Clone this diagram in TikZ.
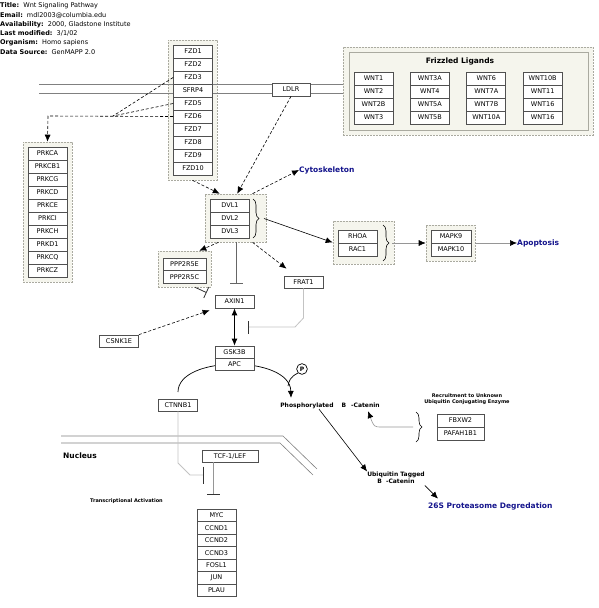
\documentclass[tikz,border=0pt]{standalone}
\usepackage{fontspec}
\setmainfont{DejaVu Sans}
\usetikzlibrary{arrows.meta,positioning,calc,decorations.pathreplacing}
\definecolor{grpfill}{RGB}{245,245,237}
\definecolor{grpline}{RGB}{170,170,160}
\definecolor{boxline}{RGB}{80,80,80}
\definecolor{navy}{RGB}{20,20,140}
\definecolor{wire}{RGB}{150,150,150}
\definecolor{lightwire}{RGB}{195,195,195}

\begin{document}
\begin{tikzpicture}[
  x=1pt,
  y=-1pt,
  font=\fontsize{6.5}{7.5}\selectfont,
  gene/.style={draw=boxline, line width=0.7pt, fill=white, minimum width=39pt, minimum height=13pt, inner sep=0pt},
  grp/.style={draw=grpline, fill=grpfill, line width=0.6pt, dash pattern=on 2pt off 1pt, inner sep=0pt},
  memb/.style={draw=gray, line width=0.6pt},
  act/.style={line width=0.6pt, -{Latex[length=7pt,width=6pt,color=black]}},
  dact/.style={act, dash pattern=on 3pt off 2pt},
  inhib/.style={line width=0.8pt, -{Bar[width=13pt]}},
  curly/.style={decorate, decoration={brace, amplitude=6pt}, line width=0.6pt},
  lbl/.style={font=\fontsize{6}{7}\selectfont\bfseries, inner sep=0pt},
  note/.style={font=\fontsize{5}{6.5}\selectfont\bfseries, align=center, inner sep=0pt},
  fate/.style={font=\fontsize{7.5}{9}\selectfont\bfseries, text=navy, anchor=west, inner sep=0pt},
  head/.style={anchor=west, inner sep=0pt}
]
  \useasboundingbox (0,0) rectangle (598,608);

  \begin{scope}
    \clip (0,0) rectangle (131,60);
    \node[head] (hd1) at (0,6) {\textbf{Title:}\ \ Wnt Signaling Pathway};
    \node[head] (hd2) at (0,15.5) {\textbf{Email:}\ \ mdl2003@columbia.edu};
    \node[head] (hd3) at (0,24.5) {\textbf{Availability:}\ \ 2000, Gladstone Institute};
    \node[head] (hd4) at (0,33.5) {\textbf{Last modified:}\ \ 3/1/02};
    \node[head] (hd5) at (0,43) {\textbf{Organism:}\ \ Homo sapiens};
    \node[head] (hd6) at (0,52) {\textbf{Data Source:}\ \ GenMAPP 2.0};
  \end{scope}

  \node[grp, minimum width=49pt, minimum height=140pt] (fzdgrp) at (192.5,110) {};
  \node[grp, minimum width=49pt, minimum height=140pt] (prkcgrp) at (47.5,212) {};
  \node[grp, minimum width=250pt, minimum height=88pt] (wntgrp) at (468,91) {};
  \node[grp, solid, minimum width=239pt, minimum height=78pt] (wntbox) at (468.5,91) {};
  \node[grp, minimum width=61pt, minimum height=48pt] (dvlgrp) at (235.5,218) {};
  \node[grp, minimum width=61pt, minimum height=43pt] (rhoagrp) at (363.5,242.5) {};
  \node[grp, minimum width=49pt, minimum height=36pt] (mapkgrp) at (450.5,243) {};
  \node[grp, minimum width=53pt, minimum height=36pt] (pppgrp) at (184.5,269) {};

  \draw[memb] (39,84) -- (343,84);
  \draw[memb] (39,93) -- (343,93);
  \draw[memb] (61,436) -- (283,436) -- (317,469);
  \draw[memb] (61,443) -- (280,443) -- (313,475);

  \foreach \g [count=\i] in {FZD1,FZD2,FZD3,SFRP4,FZD5,FZD6,FZD7,FZD8,FZD9,FZD10}
    \node[gene] (fzd\i) at (193,{38.5+13*\i}) {\g};
  \foreach \g [count=\i] in {PRKCA,PRKCB1,PRKCG,PRKCD,PRKCE,PRKCI,PRKCH,PRKD1,PRKCQ,PRKCZ}
    \node[gene] (prkc\i) at (47.5,{140.5+13*\i}) {\g};
  \node[font=\fontsize{7.5}{9}\selectfont\bfseries] (wnttitle) at (460,61) {Frizzled Ligands};
  \foreach \g [count=\i from 0] in {WNT1,WNT2,WNT2B,WNT3,WNT3A,WNT4,WNT5A,WNT5B,WNT6,WNT7A,WNT7B,WNT10A,WNT10B,WNT11,WNT16,WNT16} {
    \pgfmathsetmacro{\cx}{373.5+56.4*int(\i/4)}
    \pgfmathsetmacro{\cy}{78.5+13*mod(\i,4)}
    \node[gene] (wnt\i) at (\cx,\cy) {\g};
  }
  \node[gene, minimum width=38pt] (ldlr) at (291,89.5) {LDLR};

  \foreach \g [count=\i] in {DVL1,DVL2,DVL3}
    \node[gene] (dvl\i) at (230,{192.5+13*\i}) {\g};
  \node[gene] (rhoa) at (357.5,236.5) {RHOA};
  \node[gene] (rac1) at (357.5,249.5) {RAC1};
  \node[gene, minimum width=40pt] (mapk9) at (451,236.5) {MAPK9};
  \node[gene, minimum width=40pt] (mapk10) at (451,249.5) {MAPK10};
  \node[gene, minimum width=43pt, minimum height=12.5pt] (ppp1) at (184.5,264.5) {PPP2R5E};
  \node[gene, minimum width=43pt, minimum height=12.5pt] (ppp2) at (184.5,277) {PPP2R5C};

  \node[gene] (axin1) at (234.5,301.5) {AXIN1};
  \node[gene, minimum height=12pt] (frat1) at (303.5,282) {FRAT1};
  \node[gene, minimum height=12pt] (csnk1e) at (119,341) {CSNK1E};
  \node[gene, minimum height=12pt] (ctnnb1) at (178,405) {CTNNB1};
  \node[gene, minimum width=56pt, minimum height=12pt] (tcf) at (230,456) {TCF-1/LEF};
  \foreach \g [count=\i] in {MYC,CCND1,CCND2,CCND3,FOSL1,JUN,PLAU}
    \node[gene, minimum height=12.5pt] (tgt\i) at (216.5,{502.75+12.5*\i}) {\g};
  \node[gene, minimum width=47pt] (fbxw2) at (460.5,420.5) {FBXW2};
  \node[gene, minimum width=47pt] (pafah) at (460.5,433.5) {PAFAH1B1};

  \node[fate] (cyto) at (299,170) {Cytoskeleton};
  \node[fate] (apop) at (517,243) {Apoptosis};
  \node[fate] (prot) at (428,506) {26S Proteasome Degredation};
  \node[lbl] (phos) at (330,406) {Phosphorylated\hspace{8pt}B\hspace{5pt}-Catenin};
  \node[lbl, align=center] (ubiq) at (396,477.5) {Ubiquitin Tagged\\B\hspace{4pt}-Catenin};
  \node[note] (recruit) at (467,399) {Recruitment to Unknown\\Ubiquitin Conjugating Enzyme};
  \node[font=\fontsize{7.5}{9}\selectfont\bfseries, anchor=west, inner sep=0pt] (nucleus) at (63,456) {Nucleus};
  \node[note, anchor=west] (transc) at (90,501) {Transcriptional Activation};
  \node[draw, circle, line width=0.7pt, inner sep=1.6pt, font=\fontsize{6}{6}\selectfont\bfseries] (pcirc) at (302,369) {P};

  \coordinate (arcstart) at (178,392);
  \draw[act, line width=0.7pt] (arcstart) .. controls (178,355) and (290,355) .. ([yshift=5pt]phos.north -| 291,0);
  \draw[line width=0.7pt] (pcirc.225) .. controls (290,377) and (289,381) .. (288,386);
  \node[gene, minimum height=12pt] (gsk3b) at (234.5,352) {GSK3B};
  \node[gene, minimum height=12pt] (apc) at (234.5,364) {APC};
  \draw[boxline, line width=1.3pt] (gsk3b.south west) -- (gsk3b.south east);

  \draw[curly] (253,199) -- (253,238);
  \draw[curly] (383,225) -- (383,261);
  \draw[curly] (416,412) -- (416,442);
  \coordinate (dvltip) at (264,218.5);
  \coordinate (rhoatip) at (392,243);
  \coordinate (fbxtip) at (413,427);
  \coordinate (conv) at (113,116);

  \draw[dash pattern=on 3pt off 2pt, line width=0.6pt] (fzd3.west) -- (conv);
  \draw[dash pattern=on 3pt off 2pt, line width=0.6pt] (fzd5.west) -- (conv);
  \draw[dact] (fzd6.west) -- (48,116) -- (prkcgrp.north);
  \draw[dact] (fzdgrp.south) -- (dvlgrp.123);
  \draw[dact] (ldlr.south) -- (dvlgrp.86);
  \draw[dact] (dvlgrp.55) -- (cyto.west);
  \draw[act] (dvltip) -- (rhoagrp.west);
  \draw[act, wire] (rhoatip) -- (mapkgrp.west);
  \draw[act, wire] (mapkgrp.east) -- (apop.west);
  \draw[dact] (dvlgrp.235) -- (pppgrp.51);
  \draw[dact] (dvlgrp.-55) -- ([xshift=-17pt,yshift=7pt]frat1.north);
  \draw[inhib, draw=gray!80!black] (dvlgrp.south -| 236,0) -- ([xshift=1.5pt,yshift=11pt]axin1.north);
  \draw[inhib, draw=black!80, -{Bar[width=12pt]}] (pppgrp.-60) -- ([xshift=-8pt,yshift=2pt]axin1.north west);
  \draw[inhib, draw=lightwire, -{Bar[width=13pt,color=black!80]}] (frat1.south) -- (303.5,318) -- (295,327) -- ([xshift=-6pt]axin1.south east |- 0,327);
  \draw[line width=0.8pt, {Latex[length=7pt,width=6pt]}-{Latex[length=7pt,width=6pt]}] (axin1.south) -- (gsk3b.north);
  \draw[dact] (csnk1e.north east) -- ([xshift=-5pt,yshift=-2pt]axin1.south west);
  \draw[act] ([xshift=-11pt]phos.south) -- (ubiq.north west);
  \draw[act] ([yshift=-2pt]ubiq.south east) -- ([xshift=10pt,yshift=3.5pt]prot.north west);
  \draw[act, wire] (fbxtip) -- (382,427) .. controls (374,427) .. ([xshift=38pt,yshift=-2pt]phos.south);
  \draw[inhib, draw=lightwire, -{Bar[width=17pt,color=black!80]}] (ctnnb1.south) -- (178,463) -- (190,475) -- (204,475);
  \draw[inhib, draw=wire, -{Bar[width=13pt,color=black!80]}] ([xshift=-17pt]tcf.south) -- (213,495);
\end{tikzpicture}
\end{document}
